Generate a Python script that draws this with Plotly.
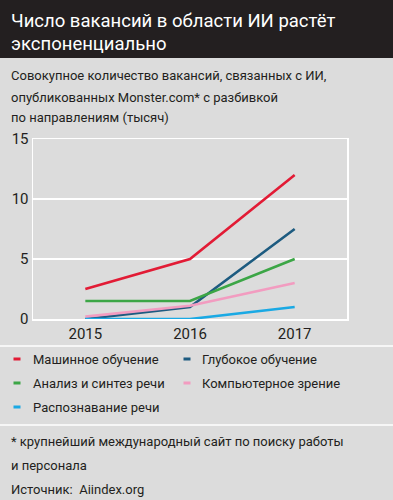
import plotly.graph_objects as go

years = [2015, 2016, 2017]
series_names = ["Машинное обучение", "Глубокое обучение", "Анализ и синтез речи",
                "Компьютерное зрение", "Распознавание речи"]
ml = [2.5, 5.0, 12.0]
dl = [0.0, 1.0, 7.5]
speech_synth = [1.5, 1.5, 5.0]
cv = [0.2, 1.1, 3.0]
speech_rec = [0.0, 0.0, 1.0]
series_values = [ml, dl, speech_synth, cv, speech_rec]
colors = ["#e21b35", "#1d5b80", "#3ca646", "#f29cc0", "#1aa9e4"]
y_ticks = [0, 5, 10, 15]

W, H = 393, 500
M = 10                       # base margin; layout positioned via axis domains
PW, PH = W - 2 * M, H - 2 * M
PL, PR, PT, PB = 33, 347, 139, 319   # plot area in pixels


def px(x):
    return (x - M) / PW


def py(y):
    return (H - M - y) / PH


FONT = "Roboto, Liberation Sans, Arial, sans-serif"
TXT = "#231f20"
BG = "#dcdcdc"

fig = go.Figure()
for name, vals, c in zip(series_names, series_values, colors):
    fig.add_trace(go.Scatter(x=years, y=vals, mode="lines", name=name,
                             line=dict(color=c, width=2.6), showlegend=False,
                             hoverinfo="skip"))

shapes = [
    dict(type="rect", xref="paper", yref="paper", x0=px(0), x1=px(W),
         y0=py(58), y1=py(0), fillcolor="#231f20", line_width=0, layer="below"),
    dict(type="line", xref="paper", yref="paper", x0=px(0), x1=px(W),
         y0=py(346), y1=py(346), line=dict(color="white", width=1.5)),
    dict(type="line", xref="paper", yref="paper", x0=px(0), x1=px(W),
         y0=py(425), y1=py(425), line=dict(color="white", width=1.5)),
]

annotations = []


def text(x, y, s, size, color=TXT):
    annotations.append(dict(xref="paper", yref="paper", x=px(x), y=py(y), text=s,
                            showarrow=False, xanchor="left", yanchor="middle",
                            font=dict(family=FONT, size=size, color=color)))


text(9, 21, "Число вакансий в области ИИ растёт", 18.5, "white")
text(9, 44, "экспоненциально", 18.5, "white")
text(9, 76, "Совокупное количество вакансий, связанных с ИИ,", 13)
text(9, 97, "опубликованных Monster.com* с разбивкой", 13)
text(9, 118, "по направлениям (тысяч)", 13)
text(9, 441, "* крупнейший международный сайт по поиску работы", 13)
text(9, 465, "и персонала", 13)
text(9, 489, "Источник:  Aiindex.org", 13)

# legend (two columns, row-wise), built from the series names and colours
leg_dash_x = [17, 187]
leg_text_x = [31, 200]
leg_row_y = [359, 383, 407]
for i, (name, c) in enumerate(zip(series_names, colors)):
    col, row = i % 2, i // 2
    yy = leg_row_y[row]
    shapes.append(dict(type="line", xref="paper", yref="paper",
                       x0=px(leg_dash_x[col] - 3.5), x1=px(leg_dash_x[col] + 3.5),
                       y0=py(yy), y1=py(yy), line=dict(color=c, width=3)))
    text(leg_text_x[col], yy, name, 13)

fig.update_layout(
    width=W, height=H,
    margin=dict(l=M, r=M, t=M, b=M, autoexpand=False),
    paper_bgcolor=BG, plot_bgcolor=BG,
    font=dict(family=FONT, size=15, color=TXT),
    shapes=shapes, annotations=annotations,
    showlegend=False,
    xaxis=dict(domain=[px(PL), px(PR)],
               range=[2014.5, 2017.5], tickvals=years, ticktext=[str(y) for y in years],
               showgrid=False, zeroline=False, showline=True, mirror=True,
               linecolor="white", linewidth=1.5, ticks="",
               tickfont=dict(size=15), fixedrange=True),
    yaxis=dict(domain=[py(PB), py(PT)],
               range=[0, 15], tickvals=y_ticks, showgrid=True, gridcolor="white",
               gridwidth=1.5, zeroline=False, showline=True, mirror=True,
               linecolor="white", linewidth=1.5, ticks="",
               tickfont=dict(size=15), fixedrange=True),
)

fig.write_html("out.html", config={"displayModeBar": False, "staticPlot": True},
               post_script="document.body.style.margin='0';"
                           "document.body.style.overflow='hidden';")
